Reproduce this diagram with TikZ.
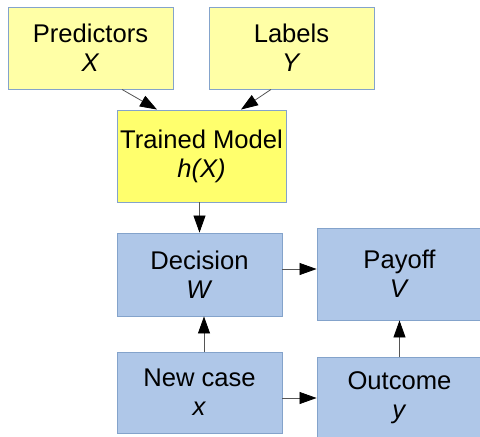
\documentclass[tikz,border=0pt]{standalone}
\usepackage{fontspec}
\setmainfont{Liberation Sans}
\usetikzlibrary{arrows.meta,calc}
\definecolor{paleyellow}{HTML}{FFFFA6}
\definecolor{brightyellow}{HTML}{FFFF6D}
\definecolor{paleblue}{HTML}{AFC7E8}
\definecolor{boxedge}{HTML}{84A3CB}
\definecolor{wire}{HTML}{555555}
\tikzset{
  box/.style={rectangle, draw=boxedge, line width=0.9pt, inner sep=0pt,
    align=center, font=\fontsize{25.6}{29}\selectfont},
  inputbox/.style={box, fill=paleyellow, minimum width=165pt, minimum height=82pt},
  modelbox/.style={box, fill=brightyellow, minimum width=169pt, minimum height=92pt},
  actbox/.style={box, fill=paleblue, minimum width=165pt},
  link/.style={draw=wire, line width=0.8pt,
    -{Triangle[length=17pt,width=12pt,color=black]}}
}
\begin{document}
\begin{tikzpicture}[x=1pt,y=-1pt]
  \clip (0,0) rectangle (480,437);
  \fill[white] (0,0) rectangle (480,437);

  % inputs and model
  \node[inputbox] (pred) at (90.5,48) {Predictors\\\textit{X}};
  \node[inputbox] (lab) at (291.5,48) {Labels\\\textit{Y}};
  \node[modelbox] (train) at (201.5,156) {Trained Model\\\textit{h(X)}};

  % decision chain
  \node[actbox, minimum height=83pt] (dec) at (199.5,274.5) {Decision\\\textit{W}};
  \node[actbox, minimum height=81pt] (new) at (199.5,392.5) {New case\\\textit{x}};
  \node[actbox, minimum height=92pt] (pay) at (399.5,274) {Payoff\\\textit{V}};
  \node[actbox, minimum height=82pt] (out) at (399.5,398) {Outcome\\\textit{y}};

  % connectors
  \draw[link] ([xshift=31.5pt]pred.south) -- ([xshift=-44.5pt]train.north);
  \draw[link] ([xshift=-20.5pt]lab.south) -- ([xshift=39.5pt]train.north);
  \draw[link] (dec.north |- train.south) -- (dec.north);
  \draw[link] ([xshift=4.5pt]new.north) -- ([xshift=4.5pt]dec.south);
  \draw[link] ([yshift=5.5pt]dec.east) -- ([yshift=5pt]pay.west);
  \draw[link] (new.east |- out.west) -- (out.west);
  \draw[link] (out.north) -- (pay.south);
\end{tikzpicture}
\end{document}
